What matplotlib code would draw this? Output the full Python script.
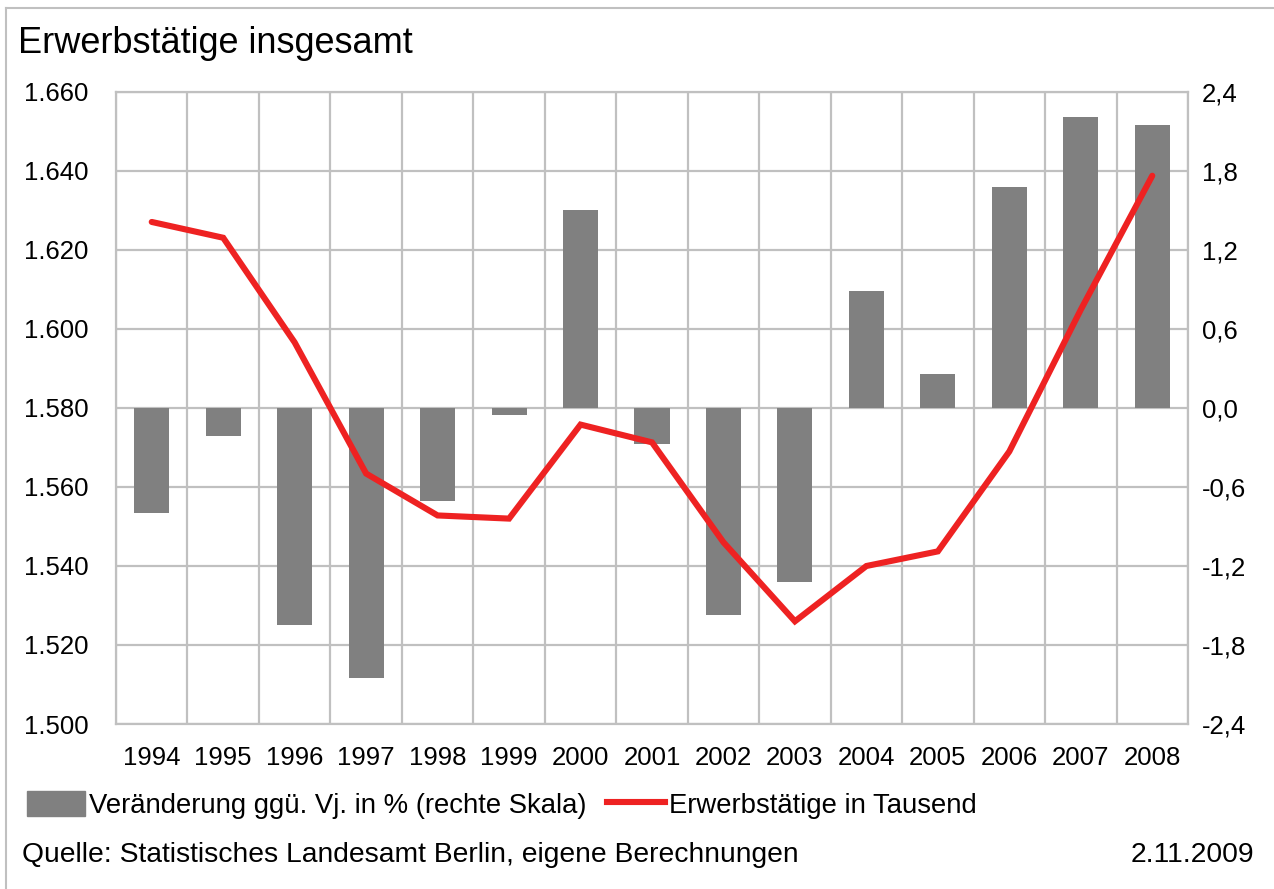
#!/usr/bin/env python3
import numpy as np
import matplotlib
matplotlib.use('Agg')
import matplotlib.pyplot as plt
from matplotlib.ticker import FixedLocator, FuncFormatter
from matplotlib.patches import Rectangle
from matplotlib.lines import Line2D

plt.rcParams['font.family'] = ['Liberation Sans', 'DejaVu Sans']

## Data
years = ['1994', '1995', '1996', '1997', '1998', '1999', '2000', '2001',
         '2002', '2003', '2004', '2005', '2006', '2007', '2008']
change_pct = [-0.80, -0.21, -1.65, -2.05, -0.71, -0.05, 1.50, -0.27,
              -1.57, -1.32, 0.89, 0.26, 1.68, 2.21, 2.15]
employed_k = [1627.1, 1623.1, 1596.6, 1563.4, 1552.8, 1552.0, 1575.8, 1571.3,
              1546.0, 1526.0, 1540.0, 1543.7, 1569.0, 1604.9, 1638.8]

left_ticks = [1500, 1520, 1540, 1560, 1580, 1600, 1620, 1640, 1660]
right_ticks = [-2.4, -1.8, -1.2, -0.6, 0.0, 0.6, 1.2, 1.8, 2.4]

## Style
grid_col = '#C0C0C0'
bar_col = '#808080'
line_col = '#EE2222'
fs_tick = 18.5
fs_legend = 19.8
fs_source = 20.3

W, H = 1274, 889
fig = plt.figure(figsize=(W/100, H/100), dpi=100)
x = np.arange(len(years))

# bars on the right scale, drawn on the base axes so the line sits on top
ax_r = fig.add_axes([116/W, 1 - 724/H, 1072/W, 632/H])
ax_l = ax_r.twinx()

ax_r.bar(x, change_pct, width=0.49, color=bar_col, zorder=3)
ax_r.set_xlim(-0.5, len(years) - 0.5)
ax_r.set_ylim(-2.4, 2.4)
ax_r.yaxis.set_major_locator(FixedLocator(right_ticks))
ax_r.yaxis.set_major_formatter(FuncFormatter(
    lambda v, p: ('%.1f' % v).replace('.', ',').replace('-0,0', '0,0')))
ax_r.set_xticks(x)
ax_r.set_xticklabels(years)
ax_r.xaxis.set_minor_locator(FixedLocator(np.arange(-0.5, len(years), 1.0)))
ax_r.grid(True, which='minor', axis='x', color=grid_col, lw=1.6, zorder=0)
ax_r.grid(True, which='major', axis='y', color=grid_col, lw=1.6, zorder=0)
ax_r.tick_params(axis='both', which='both', length=0)
ax_r.tick_params(axis='y', labelsize=fs_tick, pad=10,
                 left=False, labelleft=False, right=False, labelright=True)
ax_r.tick_params(axis='x', labelsize=fs_tick, pad=16)
for s in ax_r.spines.values():
    s.set_color(grid_col)
    s.set_linewidth(1.6)

# line on the left scale
ax_l.plot(x, employed_k, color=line_col, lw=4.4, solid_capstyle='round',
          solid_joinstyle='miter', zorder=4)
ax_l.set_ylim(1500, 1660)
ax_l.yaxis.set_major_locator(FixedLocator(left_ticks))
ax_l.yaxis.set_major_formatter(FuncFormatter(
    lambda v, p: '{:,.0f}'.format(v).replace(',', '.')))
ax_l.tick_params(axis='y', labelsize=fs_tick, pad=20, length=0,
                 left=False, labelleft=True, right=False, labelright=False)
for s in ax_l.spines.values():
    s.set_visible(False)

## Title, legend, footer
fig.text(18/W, 1 - 53/H, 'Erwerbstätige insgesamt', fontsize=26,
         va='baseline', ha='left')

handles = [Rectangle((0, 0), 1, 1, color=bar_col),
           Line2D([], [], color=line_col, lw=4.4)]
labels = ['Veränderung ggü. Vj. in % (rechte Skala)', 'Erwerbstätige in Tausend']
fig.legend(handles, labels, loc='center left', bbox_to_anchor=(27/W, 1 - 805/H),
           ncol=2, frameon=False, fontsize=fs_legend, handlelength=2.1,
           handleheight=1.0, handletextpad=0.15, columnspacing=0.75,
           borderaxespad=0, borderpad=0)

fig.text(22/W, 1 - 862/H, 'Quelle: Statistisches Landesamt Berlin, eigene Berechnungen',
         fontsize=fs_source, va='baseline', ha='left')
fig.text(1254/W, 1 - 862/H, '2.11.2009', fontsize=fs_source, va='baseline', ha='right')

# outer chart frame (only top and left edges visible in the crop)
fig.add_artist(Line2D([6/W, 6/W], [0, 1 - 8/H], color=grid_col, lw=1.5))
fig.add_artist(Line2D([6/W, 1], [1 - 8/H, 1 - 8/H], color=grid_col, lw=1.5))

fig.savefig('out.png', dpi=100)
